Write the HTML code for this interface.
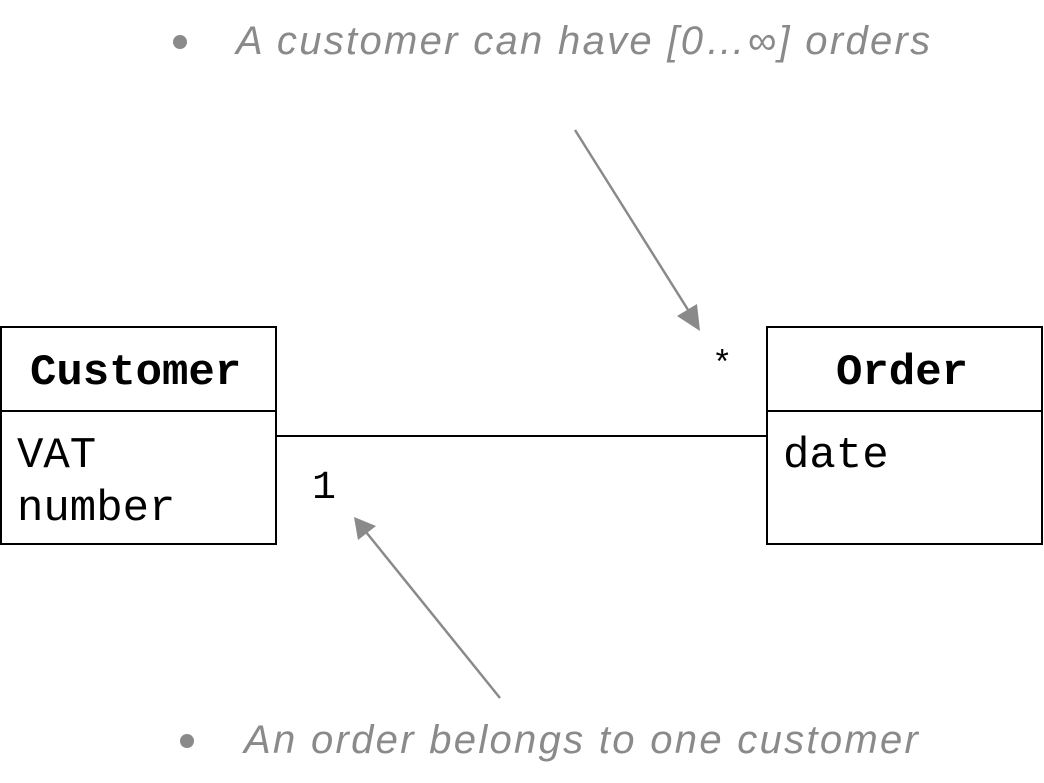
<!DOCTYPE html>
<html><head><style>
body{margin:0;background:#fff;width:1044px;height:783px;overflow:hidden;position:relative}
.t{position:absolute;font-family:"Liberation Sans",sans-serif;font-style:italic;color:#8a8a8a;font-size:40px;letter-spacing:2.3px;white-space:nowrap}
.m{position:absolute;font-family:"Liberation Mono",monospace;font-size:44px;color:#000;white-space:nowrap;line-height:1}
</style></head><body>
<svg width="1044" height="783" style="position:absolute;left:0;top:0">
<circle cx="180" cy="42" r="7" fill="#8a8a8a"/>
<circle cx="187" cy="741" r="7" fill="#8a8a8a"/>
<g fill="none" stroke="#000" stroke-width="2">
<rect x="1" y="327" width="275" height="217"/>
<line x1="1" y1="411" x2="276" y2="411"/>
<rect x="767" y="327" width="275" height="217"/>
<line x1="767" y1="411" x2="1042" y2="411"/>
<line x1="276" y1="436" x2="767" y2="436"/>
</g>
<g stroke="#8a8a8a" stroke-width="2.5">
<line x1="575" y1="130" x2="690" y2="313"/>
<line x1="500" y1="698" x2="366" y2="532"/>
</g>
<polygon points="700,331 677,316 697,304" fill="#8a8a8a"/>
<polygon points="354,517 376,526 358,540" fill="#8a8a8a"/>
</svg>
<div class="t" style="left:236px;top:19px">A customer can have [0…∞] orders</div>
<div class="t" style="left:244px;top:718px">An order belongs to one customer</div>
<div class="m" style="left:30px;top:351px;font-weight:bold">Customer</div>
<div class="m" style="left:836px;top:351px;font-weight:bold">Order</div>
<div class="m" style="left:17px;top:434px">VAT</div>
<div class="m" style="left:17px;top:487px">number</div>
<div class="m" style="left:783px;top:434px">date</div>
<div class="m" style="left:712px;top:349px;font-size:34px">*</div>
<div class="m" style="left:312px;top:469px;font-size:40px">1</div>
</body></html>
